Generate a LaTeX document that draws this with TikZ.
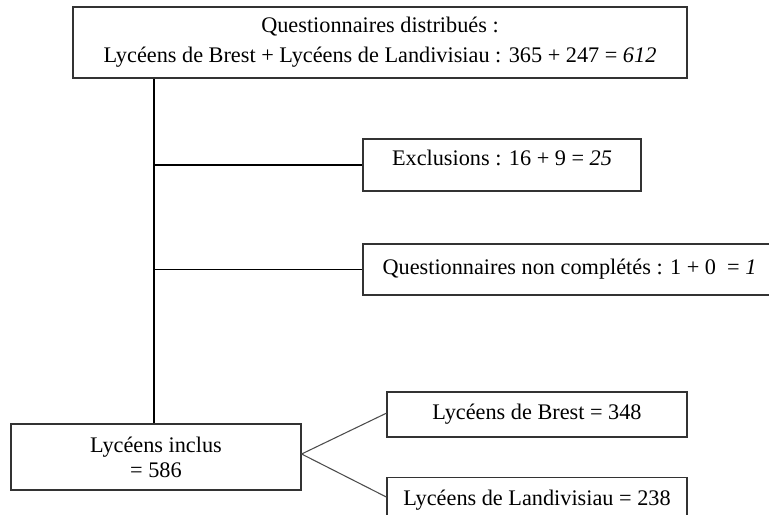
\documentclass[tikz,border=0pt]{standalone}
\usepackage{fontspec}
\setmainfont{Liberation Serif}
\usetikzlibrary{positioning,calc}
\tikzset{
    flowchart/.style={
        x=0.75pt, y=-0.75pt,
        % Stile per i riquadri (rettangolari)
        casella/.style={draw=black!80, rectangle, align=center,
                        line width=0.9pt, inner sep=0pt,
                        font=\fontsize{16.7}{22.5}\selectfont},
        % Stile per il tronco e i rami orizzontali
        ramo/.style={draw=black, line width=0.9pt},
        % Stile per la diramazione finale
        diramazione/.style={draw=black!70, line width=0.8pt}
    }
}

\begin{document}
\begin{tikzpicture}[flowchart]
  \useasboundingbox (0,0) rectangle (769,515);
  \clip (0,0) rectangle (769,515);
  \coordinate (tronco) at (154,0);
  \node[casella, minimum width=460.5pt, minimum height=53.25pt] (dist) at (380,42.5)
        {Questionnaires distribués :\\
         Lycéens de Brest + Lycéens de Landivisiau : 365 + 247 = \textit{612}};
  \node[casella, minimum width=208.5pt, minimum height=39pt, text depth=10.5pt] (excl) at (502,165)
        {Exclusions : 16 + 9 = \textit{25}};
  \node[casella, minimum width=309.75pt, minimum height=38.25pt] (noncomp) at (569.5,269.5)
        {Questionnaires non complétés : 1 + 0\ \ = \textit{1}};
  \node[casella, minimum width=217.5pt, minimum height=49.5pt,
        font=\fontsize{16.7}{18.75}\selectfont] (incl) at (156,457)
        {Lycéens inclus\\ = 586};
  \node[casella, minimum width=225pt, minimum height=33.75pt] (brest) at (537,414.5)
        {Lycéens de Brest = 348};
  \node[casella, minimum width=225pt, minimum height=33.75pt, below=29.25pt of brest] (landi)
        {Lycéens de Landivisiau = 238};

  \draw[ramo] (dist.south -| tronco) -- (incl.north -| tronco);
  \draw[ramo] (excl.west -| tronco) -- (excl.west);
  \draw[ramo] (noncomp.west -| tronco) -- (noncomp.west);
  \draw[diramazione] ([yshift=2.25pt]incl.east) -- ([yshift=1pt]brest.west);
  \draw[diramazione] ([yshift=2.25pt]incl.east) -- ([yshift=2pt]landi.west);
\end{tikzpicture}
\end{document}
